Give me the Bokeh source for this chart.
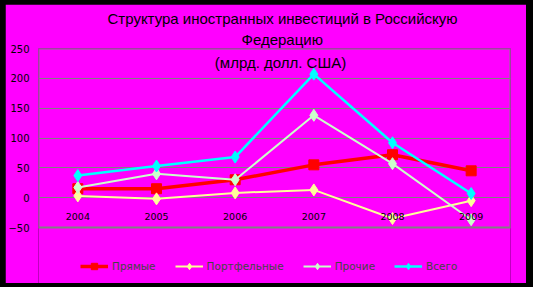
from bokeh.plotting import figure
from bokeh.models import Legend, LegendItem, Label, ColumnDataSource, FixedTicker, Title
from bokeh.layouts import column
from bokeh.embed import file_html
from bokeh.resources import INLINE
from bokeh.core.properties import value

years = ["2004", "2005", "2006", "2007", "2008", "2009"]
direct = [15, 15, 30, 55, 72, 45]
portfolio = [3, -2, 8, 13, -35, -5]
other = [17, 40, 30, 138, 57, -37]
total = [37, 53, 68, 207, 92, 7]
y_ticks = [-50, 0, 50, 100, 150, 200, 250]
title_lines = ["Структура иностранных инвестиций в Российскую", "Федерацию", "(млрд. долл. США)"]
series_names = ["Прямые", "Портфельные", "Прочие", "Всего"]

# layout: plot box is 179 px tall for -50..250; 56 px of legend room below it
Y_MIN, Y_MAX = -50, 250
BOX_PX, LEGEND_PX = 179, 56
y_start = Y_MIN - (Y_MAX - Y_MIN) * LEGEND_PX / BOX_PX

MAG = "#FF00FF"
p = figure(width=521, height=279, x_range=years, y_range=(y_start, Y_MAX),
           output_backend="svg", toolbar_location=None,
           min_border_left=33, min_border_right=16, min_border_top=44, min_border_bottom=0)
p.background_fill_color = MAG
p.border_fill_color = MAG
p.outline_line_color = None

# plot-area border: spans all categories and the -50..250 value range
p.quad(left=[0], right=[len(years)], bottom=[Y_MIN], top=[Y_MAX],
       fill_color=None, line_color="#808080", line_width=2, level="underlay")

p.xaxis.visible = False
p.xgrid.grid_line_color = None
p.ygrid.grid_line_color = "#808080"
p.ygrid.grid_line_width = 1
p.yaxis.ticker = FixedTicker(ticks=y_ticks)
p.yaxis.axis_line_color = None
p.yaxis.major_tick_line_color = None
p.yaxis.minor_tick_line_color = None
p.yaxis.major_tick_out = 0
p.yaxis.major_tick_in = 0
p.yaxis.major_label_standoff = 9
p.yaxis.major_label_text_font = "DejaVu Sans"
p.yaxis.major_label_text_font_size = "10px"
p.yaxis.major_label_text_color = "black"

src = ColumnDataSource(dict(x=years, direct=direct, portfolio=portfolio, other=other, total=total,
                            lab_y=[-32] * len(years)))

items = []
specs = [("direct", "#FF0000", 3.5, "square", 10),
         ("portfolio", "#FFFF99", 2, "diamond", 12),
         ("other", "#CCFFCC", 2, "diamond", 12),
         ("total", "#00FFFF", 2.5, "diamond", 12)]
for (col, color, lw, marker, ms), name in zip(specs, series_names):
    r1 = p.line("x", col, source=src, line_color=color, line_width=lw)
    r2 = p.scatter("x", col, source=src, marker=marker, size=ms, fill_color=color, line_color=color)
    items.append(LegendItem(label=name, renderers=[r1, r2]))

p.text(x="x", y="lab_y", text="x", source=src, text_align="center", text_baseline="middle",
       text_font=value("DejaVu Sans"), text_font_size="9.5px", text_color="black")

legend = Legend(items=items, orientation="horizontal", location=(42, 9),
                background_fill_alpha=0, border_line_color=None,
                padding=0, margin=0, spacing=19, label_standoff=4,
                glyph_width=28, glyph_height=16, label_height=16,
                label_text_font="DejaVu Sans", label_text_font_size="10.5px")
p.add_layout(legend, "center")

for txt, off in [(title_lines[1], 203), (title_lines[0], 69)]:
    p.add_layout(Title(text=txt, align="left", offset=off, standoff=2,
                       text_font="Liberation Sans", text_font_size="15px",
                       text_font_style="normal", text_color="black"), "above")

p.add_layout(Label(x=242, y=221, x_units="screen", y_units="screen", text=title_lines[2],
                   text_align="center", text_baseline="middle",
                   text_font="Liberation Sans", text_font_size="15px", text_color="black"))

lay = column(p, styles={"background-color": "black", "padding": "4px 7px 4px 5px"})
open("out.html", "w").write(file_html(lay, INLINE))
